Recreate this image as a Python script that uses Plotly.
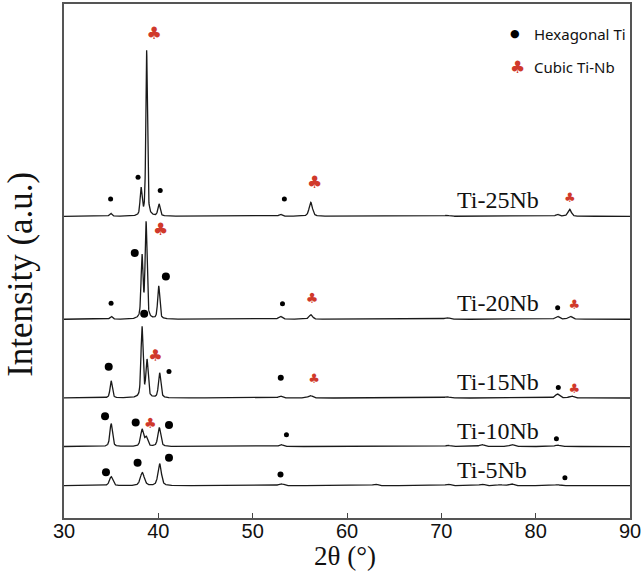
import numpy as np
import plotly.graph_objects as go

# ---------------- data ----------------
samples = ["Ti-5Nb", "Ti-10Nb", "Ti-15Nb", "Ti-20Nb", "Ti-25Nb"]
offsets = [32.4, 71.7, 120.4, 199.4, 302.7]   # stacking offsets (a.u.)

# peak positions (2theta), heights (a.u.) and FWHM (deg) for each pattern
ti5_pos = [35.0, 38.3, 40.14, 53.0, 63.0, 70.7, 74.3, 76.2, 77.4, 82.3]
ti5_h = [9, 13, 22, 2.0, 1.5, 1.5, 1.5, 1.0, 2.0, 1.0]
ti5_w = [0.42, 0.5, 0.42, 0.6, 0.6, 0.6, 0.6, 0.6, 0.6, 0.6]

ti10_pos = [35.0, 38.27, 38.72, 40.1, 53.0, 70.7, 74.3, 77.5, 82.3]
ti10_h = [23, 17, 9, 19, 2.0, 1.2, 2.0, 2.0, 1.5]
ti10_w = [0.32, 0.36, 0.36, 0.36, 0.5, 0.6, 0.6, 0.6, 0.6]

ti15_pos = [35.0, 38.27, 38.8, 40.14, 52.95, 56.1, 70.6, 82.3, 83.8]
ti15_h = [17, 71, 37, 25, 2.0, 2.5, 1.2, 4.0, 2.0]
ti15_w = [0.28, 0.26, 0.28, 0.3, 0.5, 0.5, 0.6, 0.5, 0.6]

ti20_pos = [35.0, 38.27, 38.7, 40.04, 52.93, 56.16, 70.6, 82.3, 83.66]
ti20_h = [3, 62, 96, 33, 3.0, 4.5, 1.5, 3.0, 3.0]
ti20_w = [0.3, 0.24, 0.24, 0.26, 0.45, 0.45, 0.6, 0.5, 0.5]

ti25_pos = [34.95, 38.17, 38.76, 40.07, 52.95, 56.16, 70.6, 82.3, 83.6]
ti25_h = [3, 27, 166, 12, 2.0, 14, 1.0, 2.0, 7]
ti25_w = [0.3, 0.24, 0.2, 0.28, 0.4, 0.42, 0.6, 0.4, 0.42]

# phase markers: position (2theta), height above own baseline (a.u.), size
hex_ti5_x = [34.45, 37.8, 41.13, 52.95, 83.1]
hex_ti5_h = [13.6, 23, 28, 11.3, 8]
hex_ti5_s = [8, 8, 8, 6, 5]
hex_ti10_x = [34.35, 37.6, 41.13, 53.58, 82.2]
hex_ti10_h = [30.3, 24, 21.7, 11.7, 7.7]
hex_ti10_s = [8, 8, 8, 5, 5]
hex_ti15_x = [34.74, 38.5, 41.13, 52.98, 82.4]
hex_ti15_h = [31.3, 84.6, 26.6, 20.3, 10.6]
hex_ti15_s = [8, 8, 5, 6, 5]
hex_ti20_x = [34.99, 37.5, 40.8, 53.16, 82.33]
hex_ti20_h = [16, 66.6, 43, 15.6, 11.6]
hex_ti20_s = [5, 8, 8, 5, 5]
hex_ti25_x = [34.94, 37.85, 40.2, 53.36]
hex_ti25_h = [17.3, 39.3, 26, 17.3]
hex_ti25_s = [5, 5, 5, 5]

cub_ti10_x = [39.15]
cub_ti10_h = [21.7]
cub_ti10_s = [14]
cub_ti15_x = [39.68, 56.5, 84.1]
cub_ti15_h = [41.6, 18.3, 8]
cub_ti15_s = [16, 13, 13]
cub_ti20_x = [40.25, 56.3, 84.1]
cub_ti20_h = [89.3, 20, 13.3]
cub_ti20_s = [17, 14, 13]
cub_ti25_x = [39.55, 56.57, 83.62]
cub_ti25_h = [181.7, 32.3, 17.7]
cub_ti25_s = [17, 17, 13]

x_ticks = [30, 40, 50, 60, 70, 80, 90]
x_label = "2θ (°)"
y_label = "Intensity (a.u.)"
legend_names = ["Hexagonal Ti", "Cubic Ti-Nb"]

RED = "#d0392b"
LINE = "#1a1a1a"

peaks = [(ti5_pos, ti5_h, ti5_w), (ti10_pos, ti10_h, ti10_w), (ti15_pos, ti15_h, ti15_w),
         (ti20_pos, ti20_h, ti20_w), (ti25_pos, ti25_h, ti25_w)]
hexm = [(hex_ti5_x, hex_ti5_h, hex_ti5_s), (hex_ti10_x, hex_ti10_h, hex_ti10_s),
        (hex_ti15_x, hex_ti15_h, hex_ti15_s), (hex_ti20_x, hex_ti20_h, hex_ti20_s),
        (hex_ti25_x, hex_ti25_h, hex_ti25_s)]
cubm = [([], [], []), (cub_ti10_x, cub_ti10_h, cub_ti10_s), (cub_ti15_x, cub_ti15_h, cub_ti15_s),
        (cub_ti20_x, cub_ti20_h, cub_ti20_s), (cub_ti25_x, cub_ti25_h, cub_ti25_s)]


def profile(x, pos, h, w, eta=0.5):
    y = np.zeros_like(x)
    for p, a, f in zip(pos, h, w):
        hw = f / 2.0
        u = ((x - p) / hw) ** 2
        y += a * (eta / (1 + u) + (1 - eta) * np.exp(-np.log(2) * u))
    return y


x = np.linspace(30, 90, 3001)
fig = go.Figure()

for name, off, (pp, ph, pw) in zip(samples, offsets, peaks):
    fig.add_trace(go.Scatter(x=x, y=off + profile(x, pp, ph, pw), mode="lines",
                             line=dict(color=LINE, width=1.3), name=name,
                             showlegend=False, hoverinfo="skip"))

for off, (hx, hh, hs) in zip(offsets, hexm):
    fig.add_trace(go.Scatter(x=hx, y=[off + v for v in hh], mode="markers", opacity=1,
                             marker=dict(color="#000000", size=hs, opacity=1,
                                         line=dict(width=0, color="#000000")),
                             showlegend=False))

for off, (cx, ch, cs) in zip(offsets, cubm):
    if not cx:
        continue
    fig.add_trace(go.Scatter(x=cx, y=[off + v for v in ch], mode="text", text=["♣"] * len(cx),
                             textposition="middle center",
                             textfont=dict(color=RED, size=cs, family="DejaVu Sans"),
                             showlegend=False))

# sample labels
for name, off in zip(samples, offsets):
    fig.add_annotation(x=71.4, y=off, xref="x", yref="y", text=name, showarrow=False,
                       xanchor="left", yanchor="bottom", yshift=1,
                       font=dict(family="Liberation Serif", size=24, color="#111"))

# legend (manual)
fig.add_annotation(x=0.796, y=0.942, xref="paper", yref="paper", text="●", showarrow=False,
                   xanchor="center", yanchor="middle",
                   font=dict(family="DejaVu Sans", size=11, color="black"))
fig.add_annotation(x=0.8015, y=0.878, xref="paper", yref="paper", text="♣", showarrow=False,
                   xanchor="center", yanchor="middle",
                   font=dict(family="DejaVu Sans", size=17, color=RED))
fig.add_annotation(x=0.826, y=0.942, xref="paper", yref="paper", text=legend_names[0],
                   showarrow=False, xanchor="left", yanchor="middle",
                   font=dict(family="Noto Sans", size=15, color="#111"))
fig.add_annotation(x=0.826, y=0.878, xref="paper", yref="paper", text=legend_names[1],
                   showarrow=False, xanchor="left", yanchor="middle",
                   font=dict(family="Noto Sans", size=15, color="#111"))

# axis titles
fig.add_annotation(x=-0.076, y=0.475, xref="paper", yref="paper", text=y_label, textangle=-90,
                   xanchor="center", yanchor="middle", borderpad=0,
                   showarrow=False, font=dict(family="Liberation Serif", size=35, color="#111"))
fig.add_annotation(x=0.497, y=-0.074, xref="paper", yref="paper", text=x_label,
                   xanchor="center", yanchor="middle", borderpad=0,
                   showarrow=False, font=dict(family="Liberation Serif", size=27, color="#111"))

fig.update_layout(
    width=643, height=582,
    margin=dict(l=64, r=12, t=2, b=64),
    plot_bgcolor="white", paper_bgcolor="white",
    showlegend=False,
)
fig.update_xaxes(range=[30, 90], tickvals=x_ticks, ticks="inside", ticklen=5, tickwidth=1.2,
                 tickcolor="#444", showline=True, mirror=True, linecolor="#555", linewidth=1.5,
                 showgrid=False, zeroline=False, ticklabelstandoff=-6,
                 tickfont=dict(family="Liberation Sans", size=20, color="#111"))
fig.update_yaxes(range=[0, 515.7], showticklabels=False, ticks="", showline=True, mirror=True,
                 linecolor="#555", linewidth=1.5, showgrid=False, zeroline=False)

fig.write_html("out.html", config={"displayModeBar": False},
               post_script="document.body.style.margin='0';document.body.style.padding='0';")
